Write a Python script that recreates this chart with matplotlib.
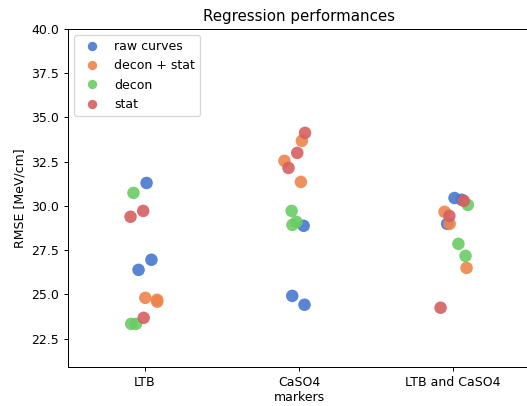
import numpy as np
import pandas as pd
import seaborn as sns
import matplotlib
matplotlib.use("Agg")
import matplotlib.pyplot as plt

# RMSE of each regression run, grouped by marker set and input type
markers = ["LTB", "CaSO4", "LTB and CaSO4"]
methods = ["raw curves", "decon + stat", "decon", "stat"]

rmse = {
    "LTB": {
        "raw curves": [31.30, 26.96, 26.39],
        "decon + stat": [24.81, 24.70, 24.59],
        "decon": [30.74, 23.34, 23.34],
        "stat": [29.72, 29.39, 23.68],
    },
    "CaSO4": {
        "raw curves": [28.88, 24.92, 24.42],
        "decon + stat": [33.68, 32.55, 31.36],
        "decon": [29.72, 29.10, 28.93],
        "stat": [34.13, 33.00, 32.15],
    },
    "LTB and CaSO4": {
        "raw curves": [30.45, 30.35, 28.99],
        "decon + stat": [29.67, 28.99, 26.50],
        "decon": [30.06, 27.86, 27.18],
        "stat": [30.29, 29.44, 24.25],
    },
}

rows = []
for m in markers:
    for meth in methods:
        for v in rmse[m][meth]:
            rows.append({"markers": m, "method": meth, "RMSE": v})
df = pd.DataFrame(rows)

np.random.seed(3)

dpi = 90
fig = plt.figure(figsize=(527 / dpi, 406 / dpi), dpi=dpi)
ax = fig.add_axes([0.129, 0.096, 0.877, 0.8326])

sns.stripplot(data=df, x="markers", y="RMSE", hue="method", order=markers,
              hue_order=methods, palette="muted", size=10, alpha=0.9,
              jitter=0.1, linewidth=0, ax=ax)

ax.set_ylim(20.9, 40)
ax.set_yticks(np.arange(22.5, 40.01, 2.5))
ax.set_ylabel("RMSE [MeV/cm]")
ax.set_xlabel("markers", labelpad=2)
ax.set_title("Regression performances")
ax.legend(loc="upper left", markerscale=0.75)

fig.savefig("out.png", dpi=dpi)
